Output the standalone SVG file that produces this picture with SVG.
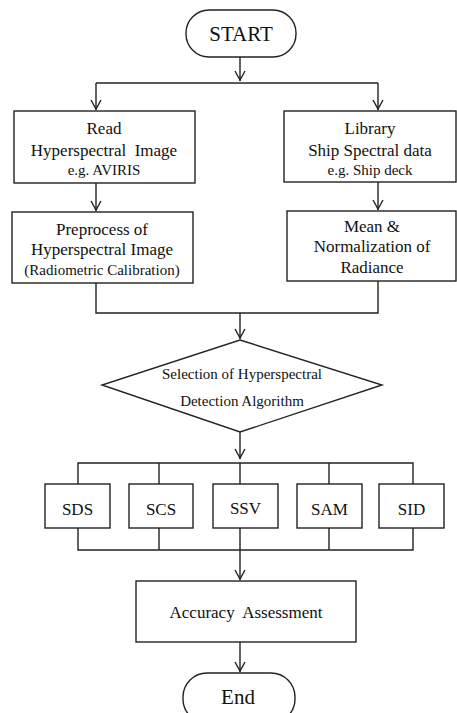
<svg xmlns="http://www.w3.org/2000/svg" width="457" height="713" viewBox="0 0 457 713">
<defs>
<style>
.sh{fill:#fff;stroke:#222;stroke-width:1.4}
.ln{fill:none;stroke:#222;stroke-width:1.4}
.ah{fill:none;stroke:#222;stroke-width:1.4;stroke-linejoin:miter}
text{font-family:Liberation Serif;fill:#111;text-anchor:middle}
.t{font-size:17px}
.s{font-size:15px}
.b{font-size:21px}
</style>
</defs>
<rect width="457" height="713" fill="#fff"/>
<g id="connectors">
<path class="ln" d="M240,57 V81"/>
<path class="ln" d="M96,83 H378"/>
<path class="ln" d="M96,83 V110"/>
<path class="ln" d="M378,83 V110"/>
<path class="ln" d="M96,183 V211"/>
<path class="ln" d="M378,182 V210"/>
<path class="ln" d="M96,283 V313 H378 V281"/>
<path class="ln" d="M240,313 V339"/>
<path class="ln" d="M240,432 V459"/>
<path class="ln" d="M78,484 V463 H413 V484 M159,463 V484 M240,463 V484 M329,463 V484"/>
<path class="ln" d="M78,528 V550 H413 V528 M159,528 V550 M240,528 V550 M329,528 V550"/>
<path class="ln" d="M240,550 V580"/>
<path class="ln" d="M240,642 V672"/>
<path class="ah" d="M235,71 L240,80 L245,71"/>
<path class="ah" d="M91,100 L96,109 L101,100"/>
<path class="ah" d="M373,100 L378,109 L383,100"/>
<path class="ah" d="M91,201 L96,210 L101,201"/>
<path class="ah" d="M373,200 L378,209 L383,200"/>
<path class="ah" d="M235,329 L240,338 L245,329"/>
<path class="ah" d="M235,449 L240,458 L245,449"/>
<path class="ah" d="M235,570 L240,579 L245,570"/>
<path class="ah" d="M235,662 L240,671 L245,662"/>
</g>
<g id="start">
<rect class="sh" x="186" y="10" width="110" height="47" rx="23" ry="23"/>
<text class="b" x="241" y="41">START</text>
</g>
<g id="read">
<rect class="sh" x="14" y="111" width="181" height="72"/>
<text class="t" x="104" y="134">Read</text>
<text class="t" x="104" y="156" xml:space="preserve">Hyperspectral  Image</text>
<text class="s" x="104" y="175">e.g. AVIRIS</text>
</g>
<g id="library">
<rect class="sh" x="284" y="111" width="172" height="71"/>
<text class="t" x="370" y="134">Library</text>
<text class="t" x="370" y="156">Ship Spectral data</text>
<text class="s" x="370" y="175">e.g. Ship deck</text>
</g>
<g id="preprocess">
<rect class="sh" x="12" y="212" width="181" height="71"/>
<text class="t" x="102" y="235">Preprocess of</text>
<text class="t" x="102" y="255">Hyperspectral Image</text>
<text class="s" x="102" y="275">(Radiometric Calibration)</text>
</g>
<g id="mean">
<rect class="sh" x="287" y="211" width="169" height="70"/>
<text class="t" x="372" y="232">Mean &amp;</text>
<text class="t" x="372" y="252">Normalization of</text>
<text class="t" x="372" y="273">Radiance</text>
</g>
<g id="selection">
<polygon class="sh" points="240,340 382,385 240,432 102,385"/>
<text class="s" x="242" y="379">Selection of Hyperspectral</text>
<text class="s" x="242" y="406">Detection Algorithm</text>
</g>
<g id="sds">
<rect class="sh" x="45" y="484" width="65" height="44"/>
<text class="t" x="77.5" y="515">SDS</text>
</g>
<g id="scs">
<rect class="sh" x="129" y="484" width="64" height="44"/>
<text class="t" x="161" y="515">SCS</text>
</g>
<g id="ssv">
<rect class="sh" x="213" y="484" width="65" height="44"/>
<text class="t" x="245.5" y="514">SSV</text>
</g>
<g id="sam">
<rect class="sh" x="297" y="484" width="65" height="44"/>
<text class="t" x="329.5" y="515">SAM</text>
</g>
<g id="sid">
<rect class="sh" x="379" y="484" width="65" height="44"/>
<text class="t" x="411.5" y="515">SID</text>
</g>
<g id="accuracy">
<rect class="sh" x="136" y="581" width="220" height="61"/>
<text class="t" x="246" y="618" xml:space="preserve">Accuracy  Assessment</text>
</g>
<g id="end">
<rect class="sh" x="183" y="673" width="112" height="50" rx="24" ry="24"/>
<text class="b" x="238" y="704">End</text>
</g>
</svg>
